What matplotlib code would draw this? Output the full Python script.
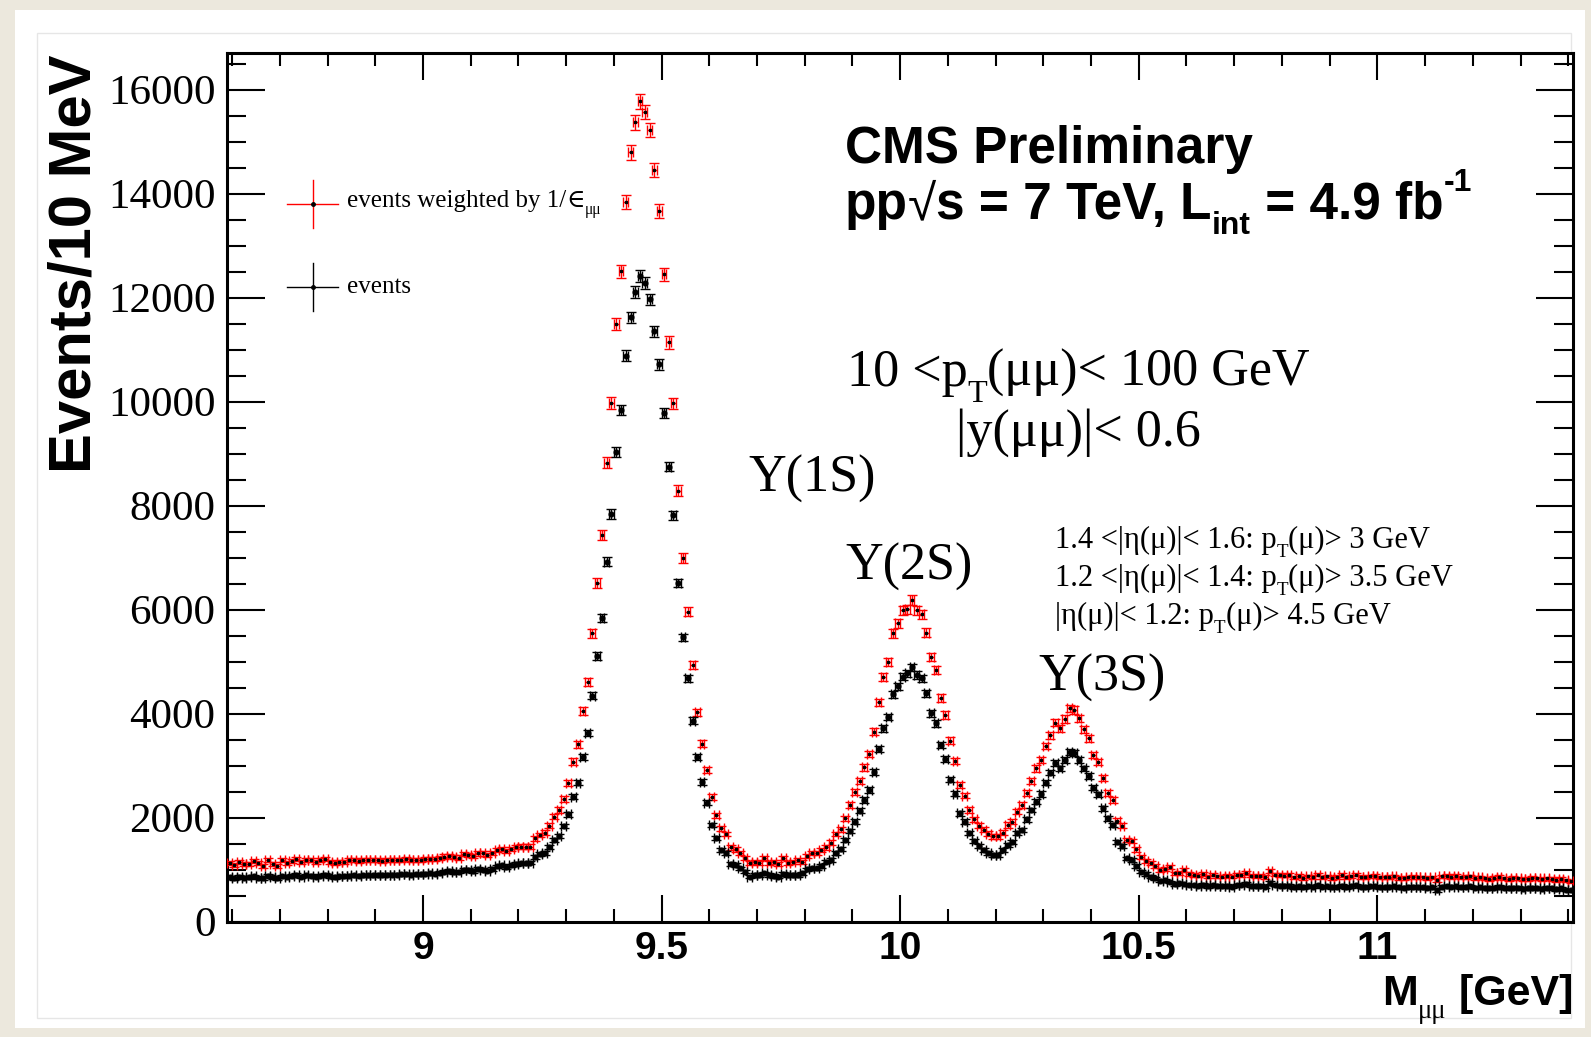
import numpy as np
import matplotlib.pyplot as plt
from matplotlib.ticker import MultipleLocator, FuncFormatter
from matplotlib.patches import Rectangle
from matplotlib.lines import Line2D

W, H = 1591, 1037

# 10 MeV bins from 8.59 to 11.41 GeV
mass_lo = 8.59
bin_width = 0.01

# events weighted by 1/eps (red), one value per bin
weighted = [
    1130, 1090, 1150, 1100, 1100, 1170, 1120, 1070, 1180, 1100,  # 8.595-
    1060, 1180, 1130, 1170, 1200, 1140, 1190, 1180, 1150, 1180,  # 8.695-
    1200, 1150, 1120, 1150, 1150, 1180, 1190, 1160, 1180, 1190,  # 8.795-
    1180, 1190, 1170, 1180, 1190, 1180, 1190, 1200, 1180, 1190,  # 8.895-
    1190, 1200, 1210, 1200, 1220, 1250, 1260, 1240, 1230, 1300,  # 8.995-
    1280, 1260, 1310, 1310, 1280, 1320, 1370, 1400, 1360, 1400,  # 9.095-
    1430, 1440, 1440, 1440, 1600, 1663, 1708, 1842, 2015, 2144,  # 9.195-
    2356, 2658, 3073, 3408, 4048, 4600, 5542, 6515, 7433, 8823,  # 9.295-
    9977, 11490, 12510, 13842, 14792, 15369, 15779, 15573, 15221, 14452,  # 9.395-
    13663, 12446, 11138, 9965, 8285, 6985, 5958, 4933, 4023, 3420,  # 9.495-
    2913, 2395, 2040, 1792, 1683, 1427, 1388, 1311, 1215, 1119,  # 9.595-
    1150, 1131, 1215, 1119, 1150, 1100, 1215, 1131, 1150, 1183,  # 9.695-
    1150, 1260, 1311, 1323, 1375, 1427, 1515, 1683, 1773, 1985,  # 9.795-
    2240, 2485, 2708, 2965, 3221, 3650, 4215, 4708, 4985, 5542,  # 9.895-
    5735, 5990, 6004, 6183, 5990, 5913, 5554, 5092, 4837, 4304,  # 9.995-
    3971, 3474, 3090, 2635, 2423, 2144, 1968, 1846, 1766, 1690,  # 10.095-
    1637, 1640, 1708, 1856, 1919, 2112, 2240, 2477, 2708, 2946,  # 10.195-
    3106, 3375, 3587, 3823, 3715, 3894, 4100, 4067, 3908, 3696,  # 10.295-
    3523, 3202, 3073, 2754, 2477, 2337, 1938, 1842, 1567, 1548,  # 10.395-
    1388, 1246, 1169, 1119, 1067, 990, 1004, 1054, 927, 938,  # 10.495-
    990, 913, 894, 880, 910, 862, 900, 870, 862, 880,  # 10.595-
    862, 900, 890, 930, 880, 870, 880, 860, 977, 900,  # 10.695-
    890, 880, 890, 850, 880, 840, 870, 860, 900, 850,  # 10.795-
    870, 840, 860, 890, 850, 870, 900, 860, 850, 870,  # 10.895-
    880, 850, 850, 860, 870, 840, 830, 850, 860, 850,  # 10.995-
    850, 830, 850, 800, 870, 880, 860, 880, 850, 860,  # 11.095-
    870, 840, 850, 830, 820, 840, 860, 830, 820, 840,  # 11.195-
    830, 810, 820, 840, 830, 810, 830, 820, 800, 820,  # 11.295-
    790, 770,  # 11.395-
]

# raw events (black)
events = [
    850, 830, 860, 840, 850, 870, 840, 830, 880, 850,
    830, 870, 860, 880, 900, 860, 890, 880, 860, 880,
    900, 870, 850, 870, 870, 880, 890, 880, 890, 890,
    890, 900, 890, 900, 900, 900, 910, 910, 900, 910,
    910, 920, 930, 920, 940, 960, 970, 950, 960, 1000,
    990, 970, 1010, 1000, 980, 1010, 1060, 1080, 1040, 1080,
    1110, 1119, 1119, 1131, 1246, 1292, 1323, 1438, 1567, 1650,
    1842, 2062, 2400, 2669, 3169, 3619, 4342, 5106, 5831, 6919,
    7837, 9035, 9837, 10881, 11619, 12111, 12413, 12285, 11965, 11356,
    10721, 9785, 8750, 7817, 6515, 5465, 4677, 3862, 3165, 2680,
    2285, 1856, 1600, 1375, 1311, 1106, 1087, 1023, 958, 862,
    894, 894, 927, 894, 875, 862, 913, 894, 894, 894,
    927, 1004, 1023, 1023, 1067, 1150, 1183, 1311, 1388, 1567,
    1746, 1919, 2131, 2337, 2529, 2881, 3317, 3715, 3938, 4369,
    4529, 4708, 4773, 4888, 4740, 4677, 4388, 4004, 3811, 3390,
    3119, 2728, 2458, 2081, 1919, 1696, 1545, 1445, 1375, 1317,
    1279, 1279, 1375, 1471, 1535, 1696, 1760, 1965, 2144, 2304,
    2452, 2669, 2862, 3042, 2946, 3106, 3265, 3235, 3106, 2946,
    2798, 2573, 2446, 2177, 1985, 1856, 1535, 1452, 1215, 1183,
    1067, 958, 913, 862, 831, 785, 790, 760, 715, 735,
    720, 700, 700, 690, 710, 680, 700, 690, 680, 690,
    670, 700, 700, 730, 690, 680, 690, 670, 750, 700,
    690, 690, 690, 660, 680, 660, 680, 670, 700, 670,
    680, 660, 670, 690, 660, 680, 700, 670, 660, 680,
    680, 660, 660, 670, 680, 660, 650, 660, 670, 660,
    660, 650, 660, 600, 670, 680, 670, 680, 660, 670,
    680, 650, 660, 650, 640, 650, 670, 650, 640, 650,
    650, 630, 640, 650, 640, 630, 650, 640, 620, 640,
    610, 600,
]

assert len(weighted) == len(events)
n_bins = len(events)
mass = mass_lo + bin_width * (np.arange(n_bins) + 0.5)
weighted = np.array(weighted, dtype=float)
events = np.array(events, dtype=float)
# poisson errors; weighted errors scale with the weight
err_events = np.sqrt(events)
err_weighted = weighted / np.sqrt(events)

fig = plt.figure(figsize=(W / 100, H / 100), dpi=100)
fig.patch.set_facecolor("#ece8dd")
fig.add_artist(Rectangle((15 / W, 1 - 1028 / H), 1570 / W, 1018 / H,
                         transform=fig.transFigure, facecolor="white",
                         edgecolor="none", zorder=0))
fig.add_artist(Rectangle((37 / W, 1 - 1018 / H), 1534 / W, 985 / H,
                         transform=fig.transFigure, facecolor="none",
                         edgecolor="#e6e6e6", lw=1, zorder=0))

ax = fig.add_axes([227.3 / W, 1 - 921.5 / H, (1573 - 227.3) / W, (921.5 - 53.3) / H])

ax.errorbar(mass, weighted, xerr=bin_width / 2, yerr=err_weighted, fmt="s",
            ms=2, mfc="black", mec="black", ecolor="red", elinewidth=1.0,
            capsize=3.5, capthick=1.0, zorder=3)
ax.errorbar(mass, events, xerr=bin_width / 2, yerr=err_events, fmt="o",
            ms=3.4, mfc="black", mec="black", ecolor="black", elinewidth=1.0,
            capsize=3.5, capthick=1.0, zorder=4)

ax.set_xlim(mass_lo, mass_lo + bin_width * n_bins)
ax.set_ylim(0, 16700)

ax.xaxis.set_major_locator(MultipleLocator(0.5))
ax.xaxis.set_minor_locator(MultipleLocator(0.1))
ax.yaxis.set_major_locator(MultipleLocator(2000))
ax.yaxis.set_minor_locator(MultipleLocator(500))
ax.xaxis.set_major_formatter(FuncFormatter(lambda v, p: "%g" % v))

ax.tick_params(axis="both", which="both", direction="in", top=True, right=True,
               width=1.5, color="black")
ax.tick_params(axis="x", which="major", length=19.5, pad=7)
ax.tick_params(axis="x", which="minor", length=9.5)
ax.tick_params(axis="y", which="major", length=27, pad=8.5)
ax.tick_params(axis="y", which="minor", length=13.5)
for lab in ax.get_xticklabels():
    lab.set_family("Liberation Sans")
    lab.set_weight("bold")
    lab.set_fontsize(28)
for lab in ax.get_yticklabels():
    lab.set_family("Liberation Serif")
    lab.set_fontsize(31)
for sp in ax.spines.values():
    sp.set_linewidth(2.2)

renderer = fig.canvas.get_renderer()


def rich(x, y, parts, size, family, weight="normal", align="left"):
    # parts: (text, shift) with shift 0 normal, <0 subscript, >0 superscript
    made = []
    x0 = x
    for part in parts:
        s, shift = part[0], part[1]
        fam = part[2] if len(part) > 2 else family
        wt = part[3] if len(part) > 3 else weight
        fs = size if shift == 0 else size * 0.62
        dy = shift * size * 100 / 72
        t = fig.text(x / W, 1 - (y - dy) / H, s, fontsize=fs, family=fam,
                     weight=wt, va="baseline", ha="left")
        x += t.get_window_extent(renderer).width
        made.append(t)
    if align == "right":
        shift_x = (x - x0) / W
        for t in made:
            px, py = t.get_position()
            t.set_x(px - shift_x)
    return made


serif = ["Liberation Serif", "DejaVu Serif"]
sans = ["Liberation Sans", "DejaVu Sans"]

fig.text(75 / W, 1 - 264 / H, "Events/10 MeV", rotation=90, fontsize=43,
         family=sans, weight="bold", ha="center", va="center")
rich(1573, 1005, [("M", 0), ("μμ", -0.3, serif, "normal"), (" [GeV]", 0)],
     31, sans, "bold", align="right")

rich(845, 163, [("CMS Preliminary", 0)], 37, sans, "bold")
rich(845, 219, [("pp", 0), ("√", 0, sans, "normal"), ("s = 7 TeV, L", 0),
                ("int", -0.3), (" = 4.9 fb", 0), ("-1", 0.55)], 37, sans, "bold")

rich(847, 386, [("10 <p", 0), ("T", -0.3), ("(μμ)< 100 GeV", 0)], 37.5, serif)
rich(956, 446, [("|y(μμ)|< 0.6", 0)], 37.5, serif)

rich(748, 492, [("Υ(1S)", 0)], 37.5, serif)
rich(845, 580, [("Υ(2S)", 0)], 37.5, serif)
rich(1038, 691, [("Υ(3S)", 0)], 37.5, serif)

rich(1055, 548, [("1.4 <|η(μ)|< 1.6: p", 0), ("T", -0.3), ("(μ)> 3 GeV", 0)], 22, serif)
rich(1055, 586, [("1.2 <|η(μ)|< 1.4: p", 0), ("T", -0.3), ("(μ)> 3.5 GeV", 0)], 22, serif)
rich(1055, 624, [("|η(μ)|< 1.2: p", 0), ("T", -0.3), ("(μ)> 4.5 GeV", 0)], 22, serif)

# legend
for yc, col in [(204, "red"), (287, "black")]:
    fig.add_artist(Line2D([287 / W, 338 / W], [1 - yc / H, 1 - yc / H],
                          transform=fig.transFigure, color=col, lw=1))
    fig.add_artist(Line2D([312.7 / W, 312.7 / W], [1 - (yc - 24) / H, 1 - (yc + 24) / H],
                          transform=fig.transFigure, color=col, lw=1))
    fig.add_artist(Line2D([312.7 / W], [1 - yc / H], transform=fig.transFigure,
                          marker="o", ms=2.5, color="black", lw=0))
rich(347, 207, [("events weighted by 1/", 0), ("∈", 0, ["DejaVu Serif"]), ("μμ", -0.3)], 18, serif)
rich(347, 293, [("events", 0)], 18, serif)

fig.savefig("out.png", dpi=100, facecolor=fig.get_facecolor())
plt.close(fig)
